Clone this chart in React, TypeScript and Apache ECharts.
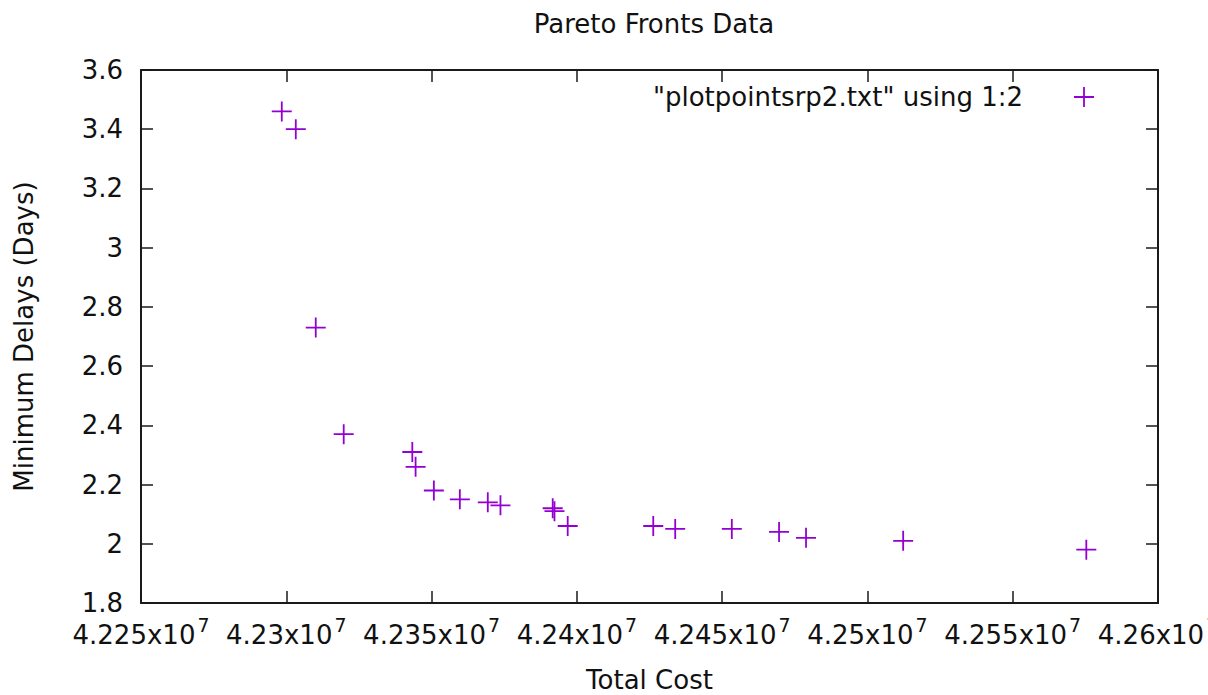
import React, { useEffect, useRef } from "react";
import * as echarts from "echarts";

const seriesName = '"plotpointsrp2.txt" using 1:2';
const totalCost = [
  42298450, 42303270, 42310140, 42319760, 42343370, 42344500, 42350790,
  42359730, 42369350, 42373710, 42391690, 42392300, 42396850, 42426290,
  42433850, 42453330, 42469590, 42478870, 42512300, 42575330,
];
const minDelays = [
  3.46, 3.4, 2.73, 2.37, 2.31, 2.26, 2.18, 2.15, 2.14, 2.13, 2.12, 2.11, 2.06,
  2.06, 2.05, 2.05, 2.04, 2.02, 2.01, 1.98,
];
const xMin = 42250000;
const xMax = 42600000;
const xStep = 50000;
const yMin = 1.8;
const yMax = 3.6;
const yStep = 0.2;

const FONT = "DejaVu Sans";
const PURPLE = "#9400d3";
const AXIS = "#1a1a1a";
const PLUS =
  "path://M0,9.1 L20,9.1 L20,10.9 L0,10.9 Z M9.1,0 L10.9,0 L10.9,20 L9.1,20 Z";

export default function App() {
  const ref = useRef<HTMLDivElement>(null);
  useEffect(() => {
    if (!ref.current) return;
    const chart = echarts.init(ref.current, null, { renderer: "svg" });
    const points = totalCost.map((c, i) => [c, minDelays[i]]);
    const axisLine = { show: true, lineStyle: { color: AXIS, width: 2 } };
    const tick = { show: true, inside: true, length: 12, lineStyle: { color: AXIS, width: 1.5 } };
    chart.setOption({
      animation: false,
      backgroundColor: "#ffffff",
      textStyle: { fontFamily: FONT },
      title: {
        text: "Pareto Fronts Data",
        left: 649,
        top: 6,
        textAlign: "center",
        textStyle: { fontFamily: FONT, fontSize: 26, fontWeight: "normal", color: "#111" },
      },
      legend: {
        data: [{ name: seriesName, icon: PLUS }],
        align: "right",
        right: 114,
        top: 84,
        padding: 0,
        itemWidth: 112,
        itemHeight: 20,
        textStyle: { fontFamily: FONT, fontSize: 26, color: "#111" },
      },
      grid: {
        left: 141,
        right: 50,
        top: 70,
        bottom: 92,
        containLabel: false,
        outerBoundsMode: "none",
      },
      xAxis: [
        {
          type: "value",
          position: "bottom",
          min: xMin,
          max: xMax,
          interval: xStep,
          name: "Total Cost",
          nameLocation: "middle",
          nameGap: 64,
          nameTextStyle: { fontFamily: FONT, fontSize: 26, color: "#111" },
          axisLine,
          axisTick: tick,
          splitLine: { show: false },
          axisLabel: {
            interval: 0,
            hideOverlap: false,
            margin: 12,
            showMaxLabel: true,
            showMinLabel: true,
            formatter: (v: number) => `{b|${parseFloat((v / 1e7).toFixed(4))}x10}{s|7}`,
            rich: {
              b: { fontFamily: FONT, fontSize: 26, color: "#111" },
              s: { fontFamily: FONT, fontSize: 19, color: "#111", padding: [0, 0, 20, 2] },
            },
          },
        },
        {
          type: "value",
          position: "top",
          min: xMin,
          max: xMax,
          interval: xStep,
          axisLine,
          axisTick: tick,
          axisLabel: { show: false },
          splitLine: { show: false },
        },
      ],
      yAxis: [
        {
          type: "value",
          position: "left",
          min: yMin,
          max: yMax,
          interval: yStep,
          name: "Minimum Delays (Days)",
          nameLocation: "middle",
          nameGap: 104,
          nameTextStyle: { fontFamily: FONT, fontSize: 26, color: "#111" },
          axisLine,
          axisTick: tick,
          splitLine: { show: false },
          axisLabel: {
            margin: 18,
            fontFamily: FONT,
            fontSize: 26,
            color: "#111",
            formatter: (v: number) => `${parseFloat(v.toFixed(2))}`,
          },
        },
        {
          type: "value",
          position: "right",
          min: yMin,
          max: yMax,
          interval: yStep,
          axisLine,
          axisTick: tick,
          axisLabel: { show: false },
          splitLine: { show: false },
        },
      ],
      series: [
        {
          name: seriesName,
          type: "scatter",
          xAxisIndex: 0,
          yAxisIndex: 0,
          data: points,
          symbol: PLUS,
          symbolSize: 20,
          itemStyle: { color: PURPLE, opacity: 1 },
        },
      ],
    });
    return () => chart.dispose();
  }, []);
  return (
    <div
      ref={ref}
      style={{ position: "absolute", left: 0, top: 0, width: 1208, height: 695 }}
    />
  );
}
